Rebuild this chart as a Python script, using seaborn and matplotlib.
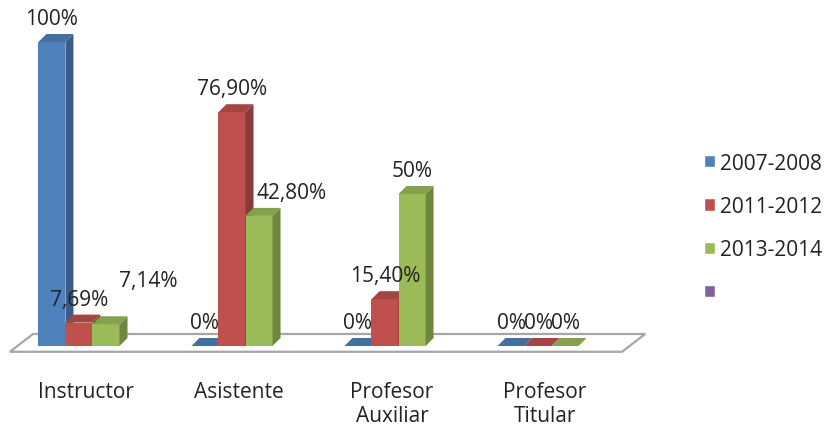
import numpy as np
import pandas as pd
import seaborn as sns
import matplotlib.pyplot as plt
from matplotlib.patches import Polygon, Patch
from matplotlib import colors as mcolors
from matplotlib.transforms import ScaledTranslation

# datos del grafico
categorias = ["Instructor", "Asistente", "Profesor\nAuxiliar", "Profesor\nTitular"]
periodos = ["2007-2008", "2011-2012", "2013-2014"]
v_2007_2008 = [100, 0, 0, 0]
v_2011_2012 = [7.69, 76.90, 15.40, 0]
v_2013_2014 = [7.14, 42.80, 50, 0]

colores = ["#4F81BD", "#C0504D", "#9BBB59"]
color_vacio = "#8064A2"

sns.set_theme(style="white")
plt.rcParams["font.family"] = ["Open Sans", "DejaVu Sans"]
fs = 15

df = pd.DataFrame({
    "categoria": categorias * 3,
    "periodo": np.repeat(periodos, len(categorias)),
    "valor": v_2007_2008 + v_2011_2012 + v_2013_2014,
})

fig = plt.figure(figsize=(8.27, 4.27), dpi=100)
ax = fig.add_axes([0, 67 / 427, 660 / 827, 360 / 427])

sns.barplot(data=df, x="categoria", y="valor", hue="periodo", order=categorias,
            hue_order=periodos, palette=colores, width=0.53, saturation=1,
            legend=False, ax=ax, errorbar=None)

# barras ordenadas de izquierda a derecha
barras = sorted(list(ax.patches), key=lambda p: p.get_x())

ax.set_xlim(-0.516, 3.797)
ax.set_ylim(-4.28, 114.14)
for s in ax.spines.values():
    s.set_visible(False)
ax.set_yticks([])
ax.set_xlabel("")
ax.set_ylabel("")
ax.tick_params(axis="x", length=0, pad=16, labelsize=fs, colors="#222222")
for lab in ax.get_xticklabels():
    lab.set_linespacing(1.2)
    lab.set_transform(lab.get_transform() + ScaledTranslation(7 / 100, 0, fig.dpi_scale_trans))

# profundidad del efecto 3D (en unidades de datos)
dx, dy = 8 / 153, 8 / 3.04

# piso
piso = Polygon([(-0.451, -1.9), (3.549, -1.9), (3.70, 3.95), (-0.30, 3.95)],
               closed=True, facecolor="white", edgecolor="#A6A6A6", lw=1.6, zorder=1)
ax.add_patch(piso)


def oscurecer(c, f):
    r, g, b = mcolors.to_rgb(c)
    return (r * f, g * f, b * f)


def fmt(v):
    if float(v).is_integer():
        return "{}%".format(int(v))
    return "{:.2f}%".format(v).replace(".", ",")


# desplazamientos manuales de algunas etiquetas (pixeles)
ajustes = {(2, 0): (42, 20), (2, 1): (33, 0)}

for k, b in enumerate(barras):
    x, w, h = b.get_x(), b.get_width(), b.get_height()
    c = b.get_facecolor()
    b.set_zorder(10 + 2 * k)
    b.set_edgecolor("none")
    lado = Polygon([(x + w, 0), (x + w + dx, dy), (x + w + dx, h + dy), (x + w, h)],
                   facecolor=oscurecer(c, 0.72), edgecolor="none", zorder=11 + 2 * k)
    tapa = Polygon([(x, h), (x + w, h), (x + w + dx, h + dy), (x + dx, h + dy)],
                   facecolor=oscurecer(c, 0.86), edgecolor="none", zorder=11 + 2 * k)
    ax.add_patch(lado)
    ax.add_patch(tapa)

# etiquetas de datos
for j, serie in enumerate([v_2007_2008, v_2011_2012, v_2013_2014]):
    for i, v in enumerate(serie):
        b = barras[i * 3 + j]
        x, w, h = b.get_x(), b.get_width(), b.get_height()
        ox, oy = ajustes.get((j, i), (0, 0))
        ax.annotate(fmt(v), xy=(x + w / 2, h + dy), xytext=(ox * 0.72, 3.5 + oy * 0.72),
                    textcoords="offset points", ha="center", va="bottom",
                    fontsize=fs, color="#222222", zorder=50)

handles = [Patch(facecolor=c) for c in colores + [color_vacio]]
fig.legend(handles, periodos + [""], loc="center left",
           bbox_to_anchor=(685 / 827, 1 - 229 / 427), frameon=False,
           handlelength=0.55, handleheight=0.55, handletextpad=0.25,
           labelspacing=1.07, fontsize=fs, labelcolor="#222222")

fig.savefig("out.png", dpi=100)
